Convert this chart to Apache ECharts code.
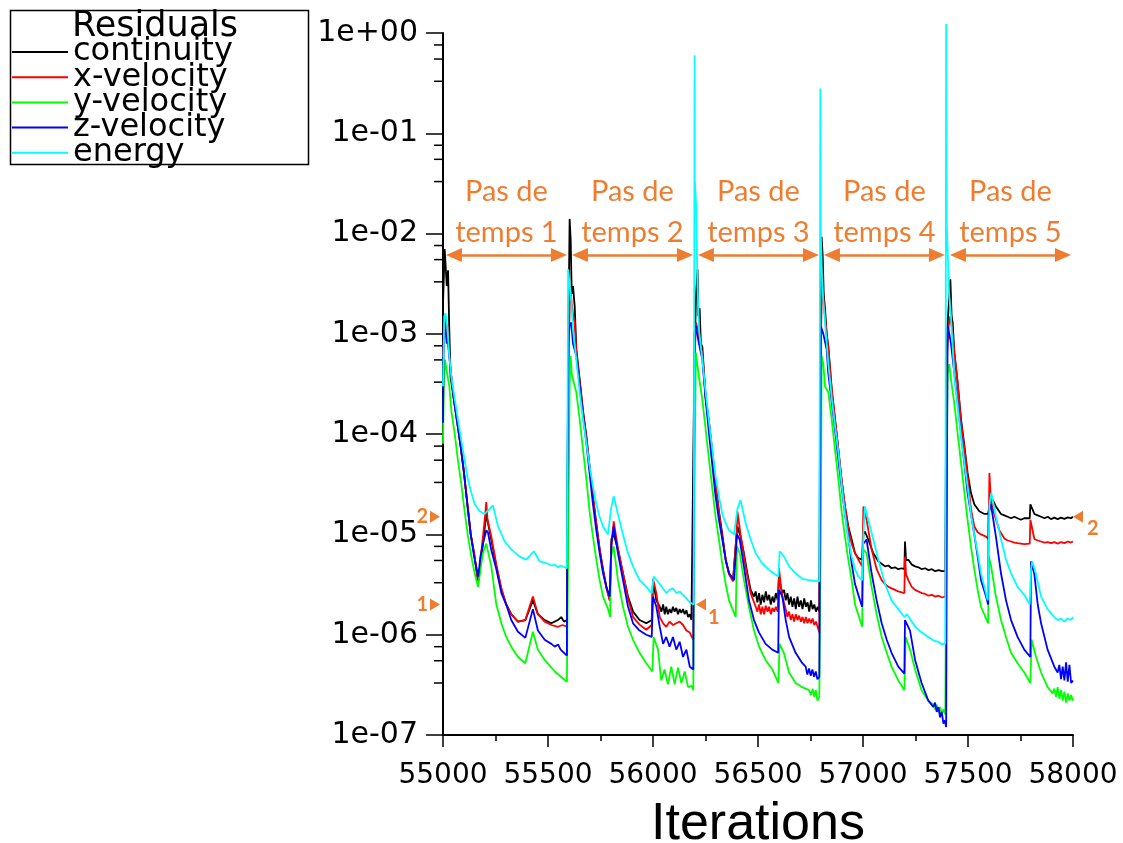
<!DOCTYPE html>
<html>
<head>
<meta charset="utf-8">
<script src="https://cdn.jsdelivr.net/npm/echarts@6/dist/echarts.min.js"></script>
<style>html,body{margin:0;padding:0;background:#fff}#c{width:1123px;height:843px}</style>
</head>
<body>
<div id="c"></div>
<script>
// ---------------- data (iteration, residual) ----------------
const continuity = [
[55000,2.0e-3],[55008,7.0e-3],[55014,7.2e-3],[55018,3.0e-3],[55024,4.3e-3],[55030,1.1e-3],[55036,3.7e-4],[55052,2.2e-4],[55068,1.3e-4],[55084,7.6e-5],[55100,4.1e-5],[55116,2.0e-5],[55132,1.0e-5],[55148,6.5e-6],[55163,3.8e-6],[55168,3.4e-6],[55178,5.0e-6],[55190,8.0e-6],[55206,1.6e-5],[55214,1.3e-5],[55230,8.9e-6],[55254,4.8e-6],[55278,2.8e-6],[55301,2.0e-6],[55325,1.6e-6],[55357,1.35e-6],[55392,1.4e-6],[55428,2.2e-6],[55452,1.6e-6],[55484,1.4e-6],[55516,1.3e-6],[55547,1.4e-6],[55563,1.5e-6],[55576,1.35e-6],[55590,1.4e-6],
[55597,1.0e-3],[55603,1.4e-2],[55608,8.7e-3],[55613,2.5e-3],[55619,3.0e-3],[55627,1.9e-3],[55635,7.0e-4],[55651,3.5e-4],[55667,1.7e-4],[55683,9.5e-5],[55698,4.8e-5],[55714,2.4e-5],[55730,1.3e-5],[55746,7.1e-6],[55762,4.5e-6],[55778,3.0e-6],[55794,2.2e-6],[55802,9.0e-6],[55813,1.0e-5],[55833,7.1e-6],[55857,4.1e-6],[55881,2.4e-6],[55905,1.7e-6],[55936,1.4e-6],[55968,1.3e-6],[55994,1.4e-6],[56000,3.5e-6],[56016,2.2e-6],[56032,1.9e-6],[56040,1.7e-6],[56048,2.0e-6],[56056,1.6e-6],[56063,1.9e-6],[56071,1.6e-6],[56079,1.8e-6],[56087,1.65e-6],[56095,1.9e-6],[56103,1.7e-6],[56111,1.85e-6],[56119,1.6e-6],[56127,1.8e-6],[56135,1.65e-6],[56143,1.8e-6],[56151,1.6e-6],[56159,1.75e-6],[56167,1.5e-6],[56175,1.6e-6],[56183,1.4e-6],[56192,1.35e-6],
[56197,5.0e-4],[56205,2.5e-3],[56212,4.4e-3],[56216,1.5e-3],[56222,1.8e-3],[56228,8.0e-4],[56235,7.4e-4],[56251,2.3e-4],[56267,1.3e-4],[56283,6.5e-5],[56298,3.2e-5],[56314,1.7e-5],[56330,1.0e-5],[56346,5.6e-6],[56362,4.1e-6],[56381,3.5e-6],[56398,1.0e-5],[56402,1.2e-5],[56417,9.5e-6],[56433,6.5e-6],[56449,4.1e-6],[56465,2.8e-6],[56481,2.4e-6],[56489,2.7e-6],[56497,2.1e-6],[56505,2.6e-6],[56513,2.0e-6],[56521,2.5e-6],[56529,2.1e-6],[56537,2.7e-6],[56545,2.2e-6],[56553,2.5e-6],[56561,2.0e-6],[56569,2.4e-6],[56577,2.1e-6],[56585,2.6e-6],[56594,2.2e-6],[56600,3.8e-6],[56608,3.0e-6],[56616,2.6e-6],[56624,2.8e-6],[56632,2.2e-6],[56640,2.6e-6],[56648,2.0e-6],[56656,2.4e-6],[56664,1.9e-6],[56672,2.3e-6],[56680,1.8e-6],[56688,2.4e-6],[56696,1.9e-6],[56704,2.2e-6],[56712,1.8e-6],[56720,2.3e-6],[56728,1.9e-6],[56736,2.1e-6],[56744,1.7e-6],[56752,2.2e-6],[56760,1.8e-6],[56768,2.0e-6],[56776,1.7e-6],[56784,1.9e-6],[56792,1.7e-6],
[56797,1.0e-3],[56803,9.3e-3],[56808,6.0e-3],[56813,2.5e-3],[56819,1.8e-3],[56827,1.0e-3],[56835,7.4e-4],[56851,2.8e-4],[56867,1.4e-4],[56883,6.9e-5],[56898,3.5e-5],[56914,1.9e-5],[56930,1.2e-5],[56946,8.9e-6],[56962,6.5e-6],[56978,5.8e-6],[56996,5.6e-6],[57002,1.0e-5],[57009,1.07e-5],[57025,8.9e-6],[57049,6.5e-6],[57073,5.4e-6],[57105,4.8e-6],[57121,4.9e-6],[57136,4.6e-6],[57152,4.7e-6],[57168,4.5e-6],[57184,4.6e-6],[57197,4.5e-6],[57200,8.5e-6],[57205,5.5e-6],[57216,5.6e-6],[57232,5.0e-6],[57248,4.8e-6],[57264,4.7e-6],[57280,4.5e-6],[57296,4.6e-6],[57312,4.4e-6],[57328,4.5e-6],[57344,4.3e-6],[57360,4.4e-6],[57376,4.3e-6],[57392,4.3e-6],
[57397,5.0e-4],[57405,1.5e-3],[57416,3.5e-3],[57422,1.5e-3],[57427,1.3e-3],[57435,6.5e-4],[57451,3.2e-4],[57467,1.4e-4],[57483,7.6e-5],[57498,4.1e-5],[57514,2.6e-5],[57530,2.0e-5],[57554,1.7e-5],[57578,1.6e-5],[57596,1.6e-5],[57609,2.4e-5],[57633,1.9e-5],[57657,1.6e-5],[57673,1.55e-5],[57689,1.5e-5],[57705,1.45e-5],[57721,1.5e-5],[57736,1.45e-5],[57752,1.4e-5],[57768,1.45e-5],[57794,1.45e-5],[57797,2.0e-5],[57816,1.6e-5],[57832,1.55e-5],[57848,1.5e-5],[57864,1.45e-5],[57880,1.5e-5],[57895,1.42e-5],[57911,1.47e-5],[57927,1.42e-5],[57943,1.47e-5],[57959,1.43e-5],[57975,1.48e-5],[57990,1.45e-5],[58000,1.5e-5]
];
const xVelocity = [
[55000,6.0e-4],[55010,1.5e-3],[55020,9.0e-4],[55030,6.0e-4],[55040,3.7e-4],[55052,2.2e-4],[55068,1.3e-4],[55084,7.6e-5],[55100,4.1e-5],[55116,2.0e-5],[55132,1.0e-5],[55148,6.5e-6],[55163,4.0e-6],[55170,3.6e-6],[55182,6.5e-6],[55200,1.5e-5],[55206,2.1e-5],[55212,1.4e-5],[55230,9.5e-6],[55254,5.0e-6],[55278,2.9e-6],[55301,2.0e-6],[55325,1.6e-6],[55357,1.35e-6],[55392,1.4e-6],[55428,2.4e-6],[55452,1.6e-6],[55484,1.35e-6],[55516,1.25e-6],[55547,1.2e-6],[55570,1.25e-6],[55590,1.2e-6],
[55599,8.0e-4],[55606,3.0e-3],[55613,2.0e-3],[55620,1.5e-3],[55627,1.3e-3],[55635,6.5e-4],[55651,3.3e-4],[55667,1.6e-4],[55683,9.0e-5],[55698,4.6e-5],[55714,2.3e-5],[55730,1.25e-5],[55746,7.1e-6],[55762,4.4e-6],[55778,2.9e-6],[55794,2.2e-6],[55802,8.0e-6],[55813,1.35e-5],[55833,7.3e-6],[55857,4.1e-6],[55881,2.3e-6],[55905,1.5e-6],[55936,1.26e-6],[55968,1.12e-6],[55994,1.25e-6],[56000,3.6e-6],[56016,2.6e-6],[56032,1.5e-6],[56048,1.3e-6],[56063,1.2e-6],[56079,1.35e-6],[56095,1.25e-6],[56111,1.3e-6],[56127,1.35e-6],[56143,1.25e-6],[56159,1.1e-6],[56175,1.05e-6],[56192,8.9e-7],
[56197,5.0e-4],[56205,1.3e-3],[56213,1.1e-3],[56220,8.0e-4],[56235,6.5e-4],[56251,2.2e-4],[56267,1.25e-4],[56283,6.3e-5],[56298,3.1e-5],[56314,1.65e-5],[56330,9.5e-6],[56346,5.6e-6],[56362,4.0e-6],[56381,3.4e-6],[56398,1.0e-5],[56402,1.7e-5],[56417,1.0e-5],[56441,4.8e-6],[56465,2.6e-6],[56489,1.9e-6],[56497,1.7e-6],[56505,2.0e-6],[56513,1.6e-6],[56521,1.9e-6],[56529,1.6e-6],[56537,1.95e-6],[56545,1.7e-6],[56553,1.9e-6],[56561,1.6e-6],[56569,1.85e-6],[56577,1.7e-6],[56585,1.9e-6],[56594,1.7e-6],[56600,4.6e-6],[56608,3.2e-6],[56616,2.4e-6],[56632,1.8e-6],[56640,1.5e-6],[56648,1.7e-6],[56656,1.4e-6],[56664,1.6e-6],[56672,1.35e-6],[56680,1.6e-6],[56688,1.4e-6],[56696,1.55e-6],[56704,1.35e-6],[56712,1.5e-6],[56720,1.3e-6],[56728,1.5e-6],[56736,1.3e-6],[56744,1.45e-6],[56752,1.3e-6],[56760,1.45e-6],[56768,1.25e-6],[56776,1.35e-6],[56784,1.2e-6],[56792,1.05e-6],
[56800,1.0e-3],[56806,4.0e-3],[56813,2.0e-3],[56819,1.5e-3],[56827,1.0e-3],[56835,7.0e-4],[56851,2.8e-4],[56867,1.4e-4],[56883,6.9e-5],[56898,3.5e-5],[56914,1.9e-5],[56930,1.15e-5],[56946,8.1e-6],[56962,6.5e-6],[56978,5.6e-6],[56996,4.8e-6],[57000,1.2e-5],[57002,1.9e-5],[57017,1.4e-5],[57041,7.1e-6],[57065,4.5e-6],[57089,3.5e-6],[57105,3.2e-6],[57121,3.0e-6],[57136,2.9e-6],[57152,2.8e-6],[57168,2.7e-6],[57184,2.65e-6],[57197,2.6e-6],[57200,6.0e-6],[57205,4.0e-6],[57216,3.5e-6],[57232,3.0e-6],[57248,2.8e-6],[57264,2.7e-6],[57280,2.6e-6],[57296,2.55e-6],[57312,2.45e-6],[57328,2.5e-6],[57344,2.4e-6],[57360,2.45e-6],[57376,2.35e-6],[57392,2.4e-6],
[57400,6.0e-4],[57408,1.2e-3],[57416,1.5e-3],[57427,1.0e-3],[57435,6.5e-4],[57451,3.2e-4],[57467,1.3e-4],[57483,7.2e-5],[57498,3.8e-5],[57514,1.8e-5],[57530,1.2e-5],[57546,1.05e-5],[57562,1.0e-5],[57586,9.5e-6],[57597,9.0e-6],[57600,2.0e-5],[57602,4.1e-5],[57609,2.2e-5],[57625,1.6e-5],[57649,1.1e-5],[57673,9.1e-6],[57689,8.7e-6],[57705,8.5e-6],[57721,8.3e-6],[57736,8.2e-6],[57752,8.1e-6],[57768,8.0e-6],[57794,8.1e-6],[57797,1.4e-5],[57816,9.0e-6],[57832,8.7e-6],[57848,8.5e-6],[57864,8.3e-6],[57880,8.4e-6],[57895,8.2e-6],[57911,8.4e-6],[57927,8.1e-6],[57943,8.4e-6],[57959,8.2e-6],[57975,8.5e-6],[57990,8.3e-6],[58000,8.5e-6]
];
const yVelocity = [
[55000,8.0e-5],[55004,3.0e-4],[55010,5.5e-4],[55020,4.0e-4],[55030,3.0e-4],[55040,1.7e-4],[55056,1.0e-4],[55071,5.5e-5],[55087,3.2e-5],[55103,1.7e-5],[55119,9.5e-6],[55135,6.0e-6],[55151,4.1e-6],[55167,3.0e-6],[55190,6.5e-6],[55206,8.1e-6],[55230,4.8e-6],[55254,2.0e-6],[55278,1.3e-6],[55301,9.5e-7],[55325,7.6e-7],[55357,6.0e-7],[55392,5.2e-7],[55428,1.07e-6],[55452,7.1e-7],[55484,5.6e-7],[55532,4.3e-7],[55590,3.4e-7],
[55598,2.0e-5],[55603,3.0e-4],[55608,6.0e-4],[55613,4.0e-4],[55619,3.5e-4],[55635,2.6e-4],[55651,1.4e-4],[55667,6.9e-5],[55683,3.5e-5],[55698,1.7e-5],[55714,9.5e-6],[55730,5.6e-6],[55746,3.5e-6],[55762,2.4e-6],[55786,1.8e-6],[55796,1.5e-6],[55800,6.0e-6],[55813,7.6e-6],[55833,3.5e-6],[55857,1.9e-6],[55881,1.2e-6],[55905,8.9e-7],[55936,6.6e-7],[55968,5.2e-7],[55997,4.3e-7],[56003,9.5e-7],[56024,7.1e-7],[56039,3.5e-7],[56055,4.5e-7],[56071,3.2e-7],[56087,4.8e-7],[56103,3.2e-7],[56119,4.7e-7],[56135,3.3e-7],[56151,4.3e-7],[56167,3.0e-7],[56183,3.1e-7],[56192,2.8e-7],
[56196,1.0e-5],[56200,1.0e-4],[56204,6.5e-4],[56219,3.7e-4],[56235,2.2e-4],[56251,1.1e-4],[56267,5.5e-5],[56283,2.8e-5],[56298,1.5e-5],[56314,8.9e-6],[56330,5.1e-6],[56346,3.2e-6],[56362,2.2e-6],[56394,1.5e-6],[56400,7.6e-6],[56413,6.5e-6],[56433,3.5e-6],[56457,1.9e-6],[56481,1.1e-6],[56505,7.6e-7],[56536,5.6e-7],[56568,4.5e-7],[56597,3.3e-7],[56603,8.1e-7],[56624,6.5e-7],[56648,4.2e-7],[56679,3.3e-7],[56711,3.0e-7],[56743,2.8e-7],[56752,2.5e-7],[56760,2.9e-7],[56768,2.4e-7],[56775,2.8e-7],[56783,2.2e-7],[56792,2.4e-7],
[56800,2.0e-5],[56803,6.0e-4],[56811,5.0e-4],[56819,3.0e-4],[56835,2.6e-4],[56851,1.4e-4],[56867,6.9e-5],[56883,3.5e-5],[56898,1.7e-5],[56914,9.5e-6],[56930,5.6e-6],[56946,3.5e-6],[56962,2.0e-6],[56996,1.2e-6],[57000,7.1e-6],[57017,6.5e-6],[57041,3.0e-6],[57065,1.6e-6],[57089,9.5e-7],[57113,6.6e-7],[57136,4.8e-7],[57168,3.5e-7],[57197,2.8e-7],[57203,9.5e-7],[57224,7.1e-7],[57248,4.5e-7],[57279,2.8e-7],[57311,2.2e-7],[57335,2.0e-7],[57343,1.8e-7],[57351,2.0e-7],[57359,1.7e-7],[57367,1.9e-7],[57375,1.6e-7],[57383,1.8e-7],[57392,1.6e-7],
[57398,5.0e-5],[57403,4.0e-4],[57411,5.0e-4],[57419,3.5e-4],[57435,2.0e-4],[57451,1.0e-4],[57467,5.1e-5],[57483,2.6e-5],[57498,1.4e-5],[57514,7.6e-6],[57530,4.5e-6],[57546,2.8e-6],[57562,1.9e-6],[57596,1.3e-6],[57599,6.0e-6],[57609,5.0e-6],[57633,2.4e-6],[57657,1.4e-6],[57681,9.5e-7],[57705,6.6e-7],[57736,5.2e-7],[57768,4.2e-7],[57797,3.3e-7],[57803,8.9e-7],[57824,6.0e-7],[57848,4.2e-7],[57879,3.0e-7],[57903,2.6e-7],[57911,2.9e-7],[57919,2.4e-7],[57927,3.0e-7],[57935,2.3e-7],[57943,2.8e-7],[57951,2.2e-7],[57959,2.7e-7],[57967,2.1e-7],[57975,2.6e-7],[57983,2.2e-7],[57991,2.5e-7],[58000,2.2e-7]
];
const zVelocity = [
[55000,1.3e-4],[55004,1.5e-3],[55010,1.2e-3],[55018,8.0e-4],[55025,9.0e-4],[55035,4.5e-4],[55052,2.2e-4],[55068,1.3e-4],[55084,7.6e-5],[55100,4.1e-5],[55116,2.0e-5],[55132,1.0e-5],[55148,6.0e-6],[55168,3.8e-6],[55178,6.0e-6],[55190,8.0e-6],[55206,1.1e-5],[55214,1.05e-5],[55230,7.0e-6],[55254,4.5e-6],[55278,2.6e-6],[55301,2.0e-6],[55325,1.4e-6],[55357,1.07e-6],[55392,9.3e-7],[55428,1.8e-6],[55452,1.1e-6],[55484,8.9e-7],[55516,8.1e-7],[55532,7.6e-7],[55548,8.0e-7],[55560,7.1e-7],[55590,6.2e-7],
[55592,2.4e-5],[55597,8.0e-4],[55603,1.2e-3],[55611,1.3e-3],[55619,8.0e-4],[55635,6.0e-4],[55651,3.0e-4],[55667,1.5e-4],[55683,8.1e-5],[55698,4.1e-5],[55714,2.0e-5],[55730,1.1e-5],[55746,6.5e-6],[55762,4.1e-6],[55778,3.0e-6],[55794,2.4e-6],[55802,8.0e-6],[55813,1.2e-5],[55833,6.5e-6],[55857,3.5e-6],[55881,1.9e-6],[55905,1.3e-6],[55936,1.1e-6],[55968,1.0e-6],[55994,9.5e-7],[56000,2.4e-6],[56016,1.9e-6],[56032,1.2e-6],[56048,8.1e-7],[56063,9.5e-7],[56079,7.6e-7],[56095,9.5e-7],[56111,7.1e-7],[56127,8.5e-7],[56143,6.0e-7],[56159,7.1e-7],[56175,4.8e-7],[56192,4.5e-7],
[56194,4.0e-5],[56197,1.0e-3],[56203,1.2e-3],[56219,8.0e-4],[56235,5.5e-4],[56251,2.2e-4],[56267,1.0e-4],[56283,4.8e-5],[56298,2.4e-5],[56314,1.4e-5],[56330,8.9e-6],[56346,5.6e-6],[56362,4.1e-6],[56386,3.5e-6],[56400,1.0e-5],[56413,8.9e-6],[56433,4.8e-6],[56457,2.2e-6],[56481,1.4e-6],[56505,1.05e-6],[56536,8.1e-7],[56568,7.1e-7],[56596,6.6e-7],[56600,2.8e-6],[56616,2.4e-6],[56632,1.4e-6],[56648,9.5e-7],[56679,6.6e-7],[56711,5.2e-7],[56727,4.8e-7],[56735,4.0e-7],[56743,4.6e-7],[56751,3.9e-7],[56759,4.5e-7],[56767,3.8e-7],[56775,4.3e-7],[56783,3.6e-7],[56792,3.8e-7],
[56796,5.0e-5],[56799,1.2e-3],[56811,1.0e-3],[56827,7.0e-4],[56835,4.0e-4],[56851,2.1e-4],[56867,1.1e-4],[56883,5.5e-5],[56898,3.0e-5],[56914,1.6e-5],[56930,9.5e-6],[56946,5.1e-6],[56962,3.2e-6],[56986,2.2e-6],[56996,1.9e-6],[57000,8.0e-6],[57017,8.9e-6],[57041,4.1e-6],[57065,2.2e-6],[57089,1.3e-6],[57113,8.9e-7],[57136,6.6e-7],[57168,4.8e-7],[57197,4.1e-7],[57200,1.4e-6],[57224,1.1e-6],[57248,5.6e-7],[57279,3.3e-7],[57311,2.2e-7],[57335,1.9e-7],[57343,2.1e-7],[57351,1.7e-7],[57359,1.9e-7],[57367,1.5e-7],[57375,1.7e-7],[57383,1.3e-7],[57390,1.4e-7],[57396,1.2e-7],
[57400,5.0e-5],[57403,1.2e-3],[57411,1.0e-3],[57419,8.0e-4],[57435,4.0e-4],[57451,2.0e-4],[57467,1.0e-4],[57483,5.0e-5],[57498,2.6e-5],[57514,1.6e-5],[57530,1.0e-5],[57546,6.0e-6],[57562,3.5e-6],[57586,2.4e-6],[57596,2.0e-6],[57598,1.6e-5],[57609,2.0e-5],[57633,9.5e-6],[57657,4.1e-6],[57681,2.2e-6],[57705,1.4e-6],[57736,9.5e-7],[57768,7.1e-7],[57797,6.0e-7],[57800,5.4e-6],[57816,4.0e-6],[57832,2.0e-6],[57848,1.3e-6],[57879,7.1e-7],[57911,4.8e-7],[57927,4.2e-7],[57935,5.0e-7],[57943,3.6e-7],[57951,4.8e-7],[57959,3.5e-7],[57967,5.3e-7],[57975,3.4e-7],[57983,5.0e-7],[57991,3.3e-7],[58000,3.5e-7]
];
const energy = [
[55000,3.0e-4],[55006,1.5e-3],[55012,1.6e-3],[55020,1.2e-3],[55030,6.0e-4],[55040,3.7e-4],[55055,2.3e-4],[55071,1.4e-4],[55087,8.7e-5],[55103,5.5e-5],[55119,3.5e-5],[55135,2.6e-5],[55151,2.0e-5],[55175,1.7e-5],[55198,1.6e-5],[55210,1.7e-5],[55238,1.95e-5],[55262,1.2e-5],[55294,8.5e-6],[55325,7.1e-6],[55365,6.0e-6],[55397,5.6e-6],[55433,6.8e-6],[55460,5.4e-6],[55500,5.1e-6],[55516,4.9e-6],[55532,5.0e-6],[55548,4.7e-6],[55560,4.9e-6],[55590,4.6e-6],
[55596,4.4e-3],[55604,3.0e-3],[55612,2.0e-3],[55619,1.1e-3],[55635,5.5e-4],[55651,2.6e-4],[55667,1.4e-4],[55683,8.1e-5],[55698,4.8e-5],[55714,3.0e-5],[55730,2.0e-5],[55746,1.5e-5],[55762,1.2e-5],[55786,1.0e-5],[55800,1.8e-5],[55813,2.4e-5],[55833,1.6e-5],[55857,1.0e-5],[55881,6.5e-6],[55905,4.8e-6],[55936,3.5e-6],[55968,3.0e-6],[55994,2.6e-6],[56003,3.8e-6],[56032,3.2e-6],[56063,2.6e-6],[56079,2.8e-6],[56095,2.9e-6],[56111,2.6e-6],[56127,2.7e-6],[56143,2.5e-6],[56159,2.3e-6],[56175,2.1e-6],[56194,2.0e-6],
[56198,0.6],[56199,3.4e-2],[56205,2.0e-2],[56212,3.0e-3],[56219,1.1e-3],[56235,5.5e-4],[56251,2.6e-4],[56267,1.3e-4],[56283,6.9e-5],[56298,3.8e-5],[56314,2.4e-5],[56330,1.6e-5],[56346,1.3e-5],[56362,1.1e-5],[56386,1.0e-5],[56402,1.8e-5],[56417,2.2e-5],[56441,1.3e-5],[56465,8.9e-6],[56489,6.5e-6],[56521,5.1e-6],[56560,4.3e-6],[56597,3.8e-6],[56603,6.8e-6],[56624,6.0e-6],[56648,4.8e-6],[56679,4.1e-6],[56711,3.6e-6],[56743,3.5e-6],[56792,3.4e-6],
[56797,0.28],[56799,1.0e-2],[56806,3.0e-3],[56819,1.3e-3],[56835,5.0e-4],[56851,2.3e-4],[56867,1.2e-4],[56883,6.5e-5],[56898,3.2e-5],[56914,1.6e-5],[56930,8.9e-6],[56946,6.0e-6],[56962,4.5e-6],[56978,3.8e-6],[56996,3.5e-6],[57002,1.0e-5],[57009,1.9e-5],[57025,1.4e-5],[57049,8.9e-6],[57073,5.6e-6],[57105,3.2e-6],[57136,2.2e-6],[57168,1.8e-6],[57197,1.5e-6],[57210,1.6e-6],[57248,1.2e-6],[57280,1.05e-6],[57311,9.5e-7],[57335,8.8e-7],[57359,8.5e-7],[57375,8.0e-7],[57392,8.2e-7],
[57396,1.23],[57398,1.4e-2],[57404,6.0e-3],[57410,2.5e-3],[57419,1.5e-3],[57435,3.7e-4],[57451,1.9e-4],[57467,9.5e-5],[57483,5.1e-5],[57498,3.0e-5],[57514,1.6e-5],[57530,1.0e-5],[57546,6.5e-6],[57562,4.1e-6],[57578,3.0e-6],[57594,2.2e-6],[57602,2.0e-5],[57611,2.6e-5],[57633,1.5e-5],[57657,9.0e-6],[57681,5.6e-6],[57705,4.1e-6],[57736,3.0e-6],[57768,2.5e-6],[57794,2.0e-6],[57800,4.5e-6],[57806,5.4e-6],[57824,4.0e-6],[57848,2.4e-6],[57879,1.8e-6],[57911,1.5e-6],[57927,1.4e-6],[57943,1.45e-6],[57959,1.35e-6],[57975,1.45e-6],[57990,1.4e-6],[58000,1.5e-6]
];

const seriesNames = ['continuity', 'x-velocity', 'y-velocity', 'z-velocity', 'energy'];
const seriesColors = ['#000000', '#ff0000', '#00ff00', '#0000ff', '#00ffff'];
const xTicks = [55000, 55500, 56000, 56500, 57000, 57500, 58000];
const yMinorTicks = [0.76, 0.55, 0.33, 0.076, 0.055, 0.033, 0.0076, 0.0055, 0.0033,
  7.6e-4, 5.5e-4, 3.3e-4, 7.6e-5, 5.5e-5, 3.3e-5, 7.6e-6, 5.5e-6, 3.3e-6, 7.6e-7, 5.5e-7, 3.3e-7];
const timeStepStarts = [55000, 55600, 56200, 56800, 57400];
const timeStepLabels = ['Pas de\ntemps 1', 'Pas de\ntemps 2', 'Pas de\ntemps 3', 'Pas de\ntemps 4', 'Pas de\ntemps 5'];
const arrowLevel = 6.1e-3;
const refLevels = [2e-6, 1.5e-5];
const refLabels = ['1', '2'];

// ---------------- chart ----------------
const ORANGE = '#ED7D31';
const chart = echarts.init(document.getElementById('c'), null, {renderer: 'canvas'});
const allData = [continuity, xVelocity, yVelocity, zVelocity, energy];

const lineSeries = allData.map((d, i) => ({
  name: seriesNames[i], type: 'line', data: d,
  symbol: 'none', showSymbol: false, clip: i === 4 ? false : true,
  lineStyle: {color: seriesColors[i], width: 1.8}, itemStyle: {color: seriesColors[i]},
  z: 2 + i, animation: false
}));

const triR = 'path://M0,0 L10,5 L0,10 Z';
const triL = 'path://M10,0 L0,5 L10,10 Z';
const markerPoints = [];
refLevels.forEach((v, i) => {
  markerPoints.push({coord: [xTicks[0], v], symbol: triR, symbolSize: [10, 12], symbolOffset: [-8, 0],
    label: {show: true, formatter: refLabels[i], position: 'left', distance: 2}});
});
markerPoints.push({coord: [timeStepStarts[2], refLevels[0]], symbol: triL, symbolSize: [10, 12], symbolOffset: [6, 0],
  label: {show: true, formatter: refLabels[0], position: 'right', distance: 2, offset: [0, 13]}});
markerPoints.push({coord: [xTicks[xTicks.length - 1], refLevels[1]], symbol: triL, symbolSize: [10, 12], symbolOffset: [5, 0],
  label: {show: true, formatter: refLabels[1], position: 'right', distance: 4, offset: [0, 12]}});

const arrowLines = timeStepStarts.map((s, i) => [
  {coord: [s + 52, arrowLevel], label: {formatter: timeStepLabels[i]}},
  {coord: [s + 552, arrowLevel]}
]);

const annotSeries = {
  name: 'annot', type: 'line', data: [], silent: true, z: 10, animation: false,
  markLine: {
    silent: true, animation: false,
    data: refLevels.map(v => ({yAxis: v, symbol: 'none', label: {show: false},
      lineStyle: {color: ORANGE, width: 2, type: 'solid'}}))
      .concat(arrowLines),
    symbol: ['triangle', 'triangle'], symbolSize: [14, 16],
    lineStyle: {color: ORANGE, width: 2.5, type: 'solid'},
    label: {show: true, position: 'insideMiddleTop', distance: 2, color: ORANGE,
      fontFamily: 'Lato', fontSize: 29, lineHeight: 41, align: 'center'}
  },
  markPoint: {
    silent: true, animation: false,
    itemStyle: {color: ORANGE},
    label: {color: ORANGE, fontFamily: 'Lato', fontWeight: 'bold', fontSize: 20},
    data: markerPoints
  }
};

const minorTickSeries = {
  type: 'custom', silent: true, animation: false,
  data: yMinorTicks.map(v => [xTicks[0], v]),
  encode: {x: 0, y: 1},
  renderItem: (params, api) => {
    const p = api.coord([api.value(0), api.value(1)]);
    return {type: 'line', shape: {x1: p[0] - 9, y1: p[1], x2: p[0], y2: p[1]},
      style: {stroke: '#000', lineWidth: 1.5}};
  }
};

const fmtExp = v => {
  const e = Math.round(Math.log10(v));
  return '1e' + (e < 0 ? '-' : '+') + String(Math.abs(e)).padStart(2, '0');
};

chart.setOption({
  backgroundColor: '#ffffff',
  animation: false,
  grid: {left: 443, right: 50, top: 33, bottom: 108, containLabel: false, outerBoundsMode: 'none'},
  legend: {
    data: seriesNames, orient: 'vertical', left: 12, top: 36, padding: 0,
    icon: 'rect', itemWidth: 56, itemHeight: 2, itemGap: -6.8, selectedMode: false,
    textStyle: {fontFamily: 'DejaVu Sans', fontSize: 32, color: '#000'}
  },
  graphic: [
    {type: 'rect', left: 8, top: 8, shape: {width: 298, height: 154},
      style: {fill: 'none', stroke: '#000', lineWidth: 1.5}, z: 100},
    {type: 'text', left: 72, top: 9,
      style: {text: 'Residuals', fontFamily: 'DejaVu Sans', fontSize: 35, fill: '#000'}, z: 100}
  ],
  xAxis: {
    type: 'value', min: 55000, max: 58000, interval: 500,
    name: 'Iterations', nameLocation: 'middle', nameGap: 64,
    nameTextStyle: {fontFamily: 'Liberation Sans', fontSize: 52, color: '#000'},
    axisLine: {show: true, lineStyle: {color: '#000', width: 2}},
    axisTick: {show: true, length: 12, lineStyle: {color: '#000', width: 1.5}},
    minorTick: {show: true, splitNumber: 2, length: 6, lineStyle: {color: '#000', width: 1.5}},
    splitLine: {show: false},
    axisLabel: {fontFamily: 'DejaVu Sans', fontSize: 28, color: '#000', margin: 27, formatter: v => String(v)}
  },
  yAxis: {
    type: 'log', logBase: 10, min: 1e-7, max: 1, splitNumber: 7,
    axisLine: {show: true, lineStyle: {color: '#000', width: 2}},
    axisTick: {show: true, length: 17, lineStyle: {color: '#000', width: 1.5}},
    minorTick: {show: false},
    splitLine: {show: false},
    axisLabel: {fontFamily: 'DejaVu Sans', fontSize: 30, color: '#000', margin: 25, formatter: fmtExp}
  },
  series: lineSeries.concat([annotSeries, minorTickSeries])
});
</script>
</body>
</html>
